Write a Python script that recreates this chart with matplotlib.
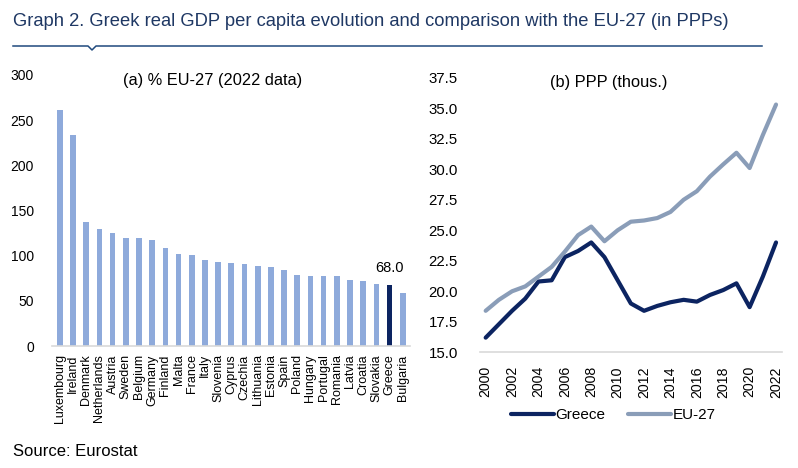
import matplotlib.pyplot as plt
from matplotlib.lines import Line2D

plt.rcParams["font.family"] = ["Liberation Sans", "DejaVu Sans"]

# (a) GDP per capita, % of EU-27, 2022
countries = ["Luxembourg", "Ireland", "Denmark", "Netherlands", "Austria", "Sweden",
             "Belgium", "Germany", "Finland", "Malta", "France", "Italy", "Slovenia",
             "Cyprus", "Czechia", "Lithuania", "Estonia", "Spain", "Poland", "Hungary",
             "Portugal", "Romania", "Latvia", "Croatia", "Slovakia", "Greece", "Bulgaria"]
pct_eu = [261, 234, 137, 129, 125, 120, 120, 117, 109, 102, 101, 95, 92.5,
          92, 90.5, 89, 87, 84.5, 79, 77.5, 77, 77, 73.5, 72.5, 68.3, 68.0, 59]

# (b) PPP, thousands
years = list(range(2000, 2023))
greece = [16.2, 17.3, 18.4, 19.4, 20.8, 20.9, 22.8, 23.3, 24.0, 22.8, 20.9, 19.0,
          18.4, 18.8, 19.1, 19.3, 19.15, 19.7, 20.1, 20.65, 18.7, 21.2, 24.0]
eu27 = [18.4, 19.3, 20.0, 20.4, 21.2, 22.0, 23.25, 24.6, 25.3, 24.1, 25.0, 25.7,
        25.8, 26.0, 26.5, 27.5, 28.2, 29.4, 30.4, 31.35, 30.1, 32.8, 35.3]

BAR = "#8eaadb"
NAVY = "#0c2461"
GREY = "#8a9db8"
AXIS = "#d9d9d9"

fig = plt.figure(figsize=(7.98, 4.68), dpi=100)

fig.text(13 / 798, 1 - 21 / 468, "Graph 2. Greek real GDP per capita evolution and comparison with the EU-27 (in PPPs)",
         fontsize=13.2, color="#1f3864", ha="left", va="center")
# header rule with the small notch
hx = [13 / 798, 88 / 798, 92 / 798, 96 / 798, 762 / 798]
hy = [1 - 46 / 468, 1 - 46 / 468, 1 - 50 / 468, 1 - 46 / 468, 1 - 46 / 468]
fig.add_artist(Line2D(hx, hy, color="#1f497d", lw=1.1))

fig.text(13 / 798, 1 - 452 / 468, "Source: Eurostat", fontsize=12, ha="left", va="center")

# left panel
ax1 = fig.add_axes([52 / 798, 1 - 346 / 468, 358 / 798, 271 / 468])
colors = [NAVY if c == "Greece" else BAR for c in countries]
ax1.bar(range(len(countries)), pct_eu, width=0.43, color=colors)
ax1.set_xlim(-0.6, len(countries) - 0.45)
ax1.set_ylim(0, 300)
ax1.set_yticks(range(0, 301, 50))
ax1.set_xticks(range(len(countries)))
ax1.set_xticklabels(countries, rotation=90, fontsize=9)
gi = countries.index("Greece")
ax1.annotate(f"{pct_eu[gi]:.1f}", (gi, pct_eu[gi]), xytext=(0, 7), textcoords="offset points",
             ha="center", va="bottom", fontsize=10.5)
fig.text(213 / 798, 1 - 80 / 468, "(a) % EU-27 (2022 data)", fontsize=11.8, ha="center", va="center")

# right panel
ax2 = fig.add_axes([480 / 798, 1 - 352.3 / 468, 301.7 / 798, 274.6 / 468])
ax2.plot(years, greece, color=NAVY, lw=3, label="Greece", solid_capstyle="round")
ax2.plot(years, eu27, color=GREY, lw=3, label="EU-27", solid_capstyle="round")
ax2.set_xlim(1999.57, 2022.43)
ax2.set_ylim(15, 37.5)
ax2.set_yticks([15 + 2.5 * i for i in range(10)])
ax2.set_yticklabels([f"{15 + 2.5 * i:.1f}" for i in range(10)])
ax2.set_xticks(years[::2])
ax2.set_xticklabels([str(y) for y in years[::2]], rotation=90, fontsize=10.2)
fig.text(609 / 798, 1 - 83 / 468, "(b) PPP (thous.)", fontsize=11.8, ha="center", va="center")
ax2.legend(loc="center", bbox_to_anchor=(613 / 798, 1 - 415 / 468), bbox_transform=fig.transFigure,
           ncol=2, frameon=False, fontsize=11, handlelength=2.8, handletextpad=0.1,
           columnspacing=1.5)

for ax in (ax1, ax2):
    for s in ("top", "right", "left"):
        ax.spines[s].set_visible(False)
    ax.spines["bottom"].set_color(AXIS)
    ax.spines["bottom"].set_linewidth(1.2)
    ax.tick_params(axis="both", length=0)
ax1.tick_params(axis="y", pad=13, labelsize=10)
ax1.tick_params(axis="x", pad=6)
ax2.tick_params(axis="y", pad=16, labelsize=10.8)
ax2.tick_params(axis="x", pad=10)

fig.savefig("out.png", dpi=100)
